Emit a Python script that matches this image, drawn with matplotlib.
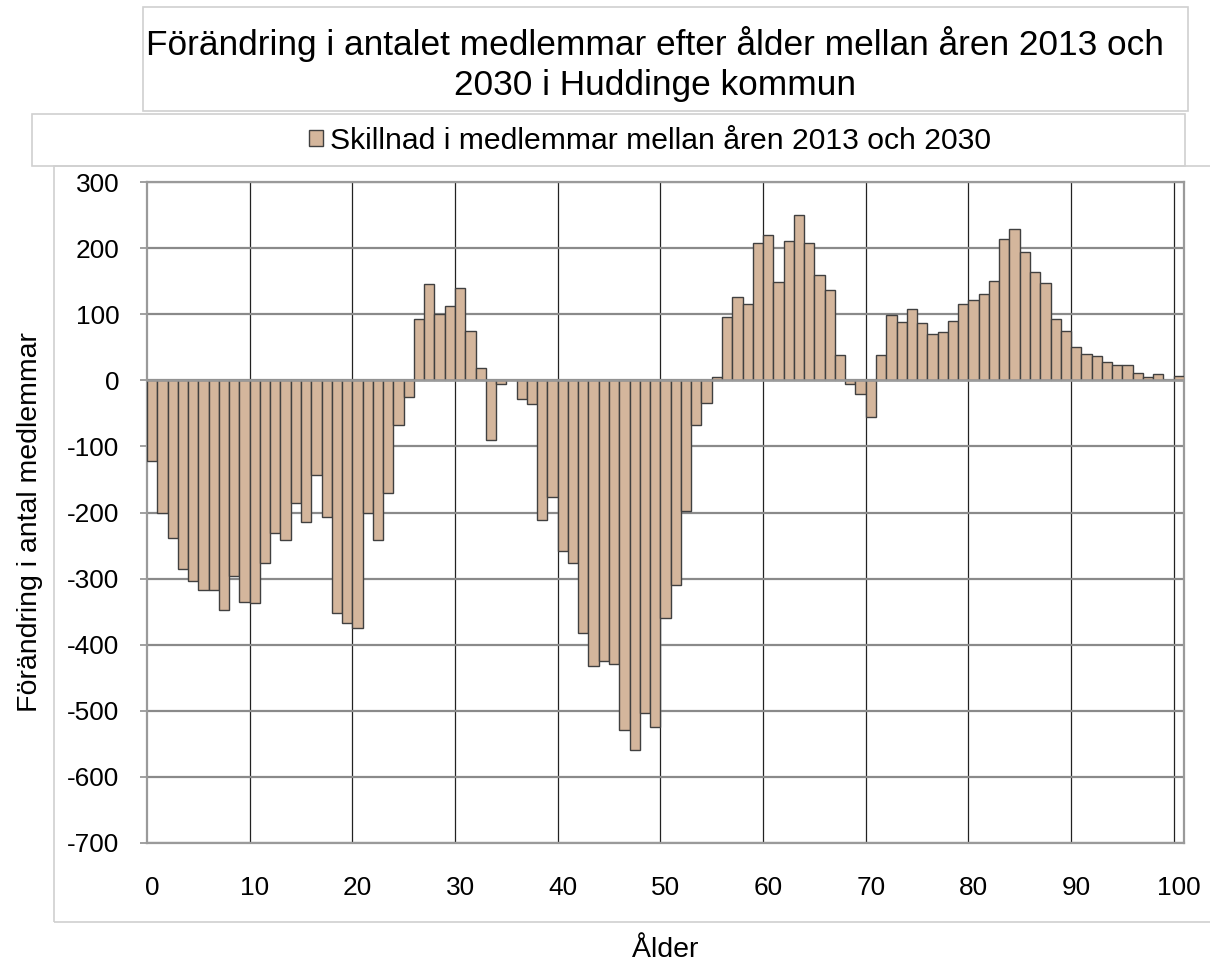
import matplotlib
matplotlib.use('Agg')
import matplotlib.pyplot as plt
from matplotlib import font_manager
from matplotlib.patches import Rectangle

# the reference text is a narrow Arial; use Liberation Sans Narrow if present
names = {f.name for f in font_manager.fontManager.ttflist}
if 'Liberation Sans Narrow' in names:
    plt.rcParams['font.family'] = ['Liberation Sans Narrow', 'DejaVu Sans']
    k = 1.0
else:
    plt.rcParams['font.family'] = ['Liberation Sans', 'DejaVu Sans']
    k = 0.82
plt.rcParams['axes.unicode_minus'] = False

# data: change in members by age 0..100
ages = list(range(0, 101))
diff = [
    -122, -201, -238, -286, -303, -318, -318, -348, -296, -335,   # 0-9
    -337, -277, -231, -241, -186, -214, -143, -207, -352, -367,   # 10-19
    -374, -201, -241, -170, -67, -26, 93, 145, 100, 112,           # 20-29
    140, 74, 18, -90, -5, 0, -28, -36, -211, -176,                 # 30-39
    -259, -277, -382, -432, -425, -429, -529, -560, -503, -524,    # 40-49
    -360, -309, -198, -67, -34, 5, 96, 126, 115, 207,              # 50-59
    220, 149, 210, 250, 207, 159, 136, 38, -6, -20,                # 60-69
    -55, 39, 99, 88, 108, 87, 70, 73, 90, 115,                     # 70-79
    122, 130, 150, 214, 229, 194, 164, 147, 93, 74,                # 80-89
    50, 40, 37, 28, 23, 23, 11, 5, 10, 0,                          # 90-99
    7,                                                             # 100
]
yticks = list(range(-700, 301, 100))
xtick_ages = list(range(0, 101, 10))

title_lines = ['Förändring i antalet medlemmar efter ålder mellan åren 2013 och',
               '2030 i Huddinge kommun']
series_name = 'Skillnad i medlemmar mellan åren 2013 och 2030'

W, H = 1210, 966
fig = plt.figure(figsize=(W / 100, H / 100), dpi=100)
ax = fig.add_axes([147 / W, 1 - 843 / H, (1184 - 147) / W, (843 - 182) / H])

# boxes around title, legend and chart area
def box(x0, y0, x1, y1):
    fig.patches.append(Rectangle((x0 / W, 1 - y1 / H), (x1 - x0) / W, (y1 - y0) / H,
                                 transform=fig.transFigure, fill=False,
                                 edgecolor='#d0d0d0', linewidth=1.2))

box(143, 7, 1188, 111)
box(32, 114, 1185, 166)
box(54, 166, 1215, 922)

ax.bar(ages, diff, width=1.0, color='#D4B69C', edgecolor='#404040',
       linewidth=1.0, zorder=3, label=series_name)

ax.set_xlim(-0.5, 100.5)
ax.set_ylim(-700, 300)
ax.set_yticks(yticks)
ax.set_xticks(xtick_ages)
ax.tick_params(axis='y', labelsize=23 * k, length=5, width=1.2, color='#909090', pad=15)
ax.tick_params(axis='x', labelsize=23 * k, length=0, pad=24)

# grid: gray horizontal, thin dark vertical at category boundaries
ax.grid(axis='y', color='#8a8a8a', linewidth=1.6, zorder=1)
for a in xtick_ages[1:]:
    ax.axvline(a - 0.5, color='#222222', linewidth=0.9, zorder=1)
ax.axhline(0, color='#9a9a9a', linewidth=1.8, zorder=4)

for s in ax.spines.values():
    s.set_color('#9a9a9a')
    s.set_linewidth(1.6)

ax.set_ylabel('Förändring i antal medlemmar', fontsize=25 * k)
ax.yaxis.set_label_coords(-0.1, 0.486)
ax.set_xlabel('Ålder', fontsize=25 * k)
ax.xaxis.set_label_coords(0.5, -0.142)

fig.text(655 / W, 1 - 55 / H, title_lines[0], ha='center', va='baseline', fontsize=31 * k)
fig.text(655 / W, 1 - 95 / H, title_lines[1], ha='center', va='baseline', fontsize=31 * k)

ax.legend(loc='center', bbox_to_anchor=(650 / W, 1 - 141 / H),
          bbox_transform=fig.transFigure, frameon=False, fontsize=26.5 * k,
          handlelength=0.45, handleheight=0.45, handletextpad=0.25)

fig.savefig('out.png', dpi=100)
